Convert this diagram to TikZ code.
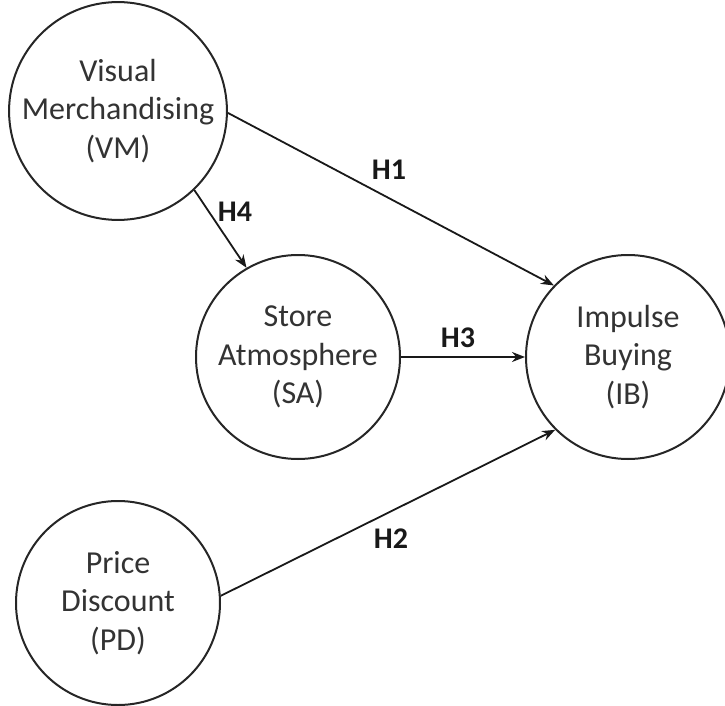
\documentclass[tikz,border=0pt]{standalone}
\usepackage{fontspec}
\setmainfont{Carlito}
\usetikzlibrary{arrows.meta}
\tikzset{
  construct/.style={circle, draw=black!85, line width=2pt, minimum size=204pt, inner sep=0pt, align=center, font=\fontsize{32}{38.5}\selectfont, text=black!80},
  link/.style={line width=1.8pt, draw=black!90, -{Stealth[length=13pt,width=10pt]}},
  hyp/.style={font=\bfseries\fontsize{30}{36}\selectfont, text=black!90}
}
\begin{document}
\begin{tikzpicture}[x=1pt,y=-1pt]
\useasboundingbox (0,0) rectangle (725,706);
\node[construct] (VM) at (118,111) {Visual\\Merchandising\\(VM)};
\node[construct] (SA) at (298,357) {Store\\Atmosphere\\(SA)};
\node[construct] (IB) at (628,357) {Impulse\\Buying\\(IB)};
\node[construct] (PD) at (118,603) {Price\\Discount\\(PD)};
\draw[link] (VM.-1) -- (IB.136);
\draw[link] (VM.-46) -- (SA.120);
\draw[link] (SA.0) -- (IB.180);
\draw[link] (PD.4) -- (IB.-135);
\node[hyp] (h1) at (389,170) {H1};
\node[hyp] (h4) at (235,212) {H4};
\node[hyp] (h3) at (458,338) {H3};
\node[hyp] (h2) at (391,539) {H2};
\end{tikzpicture}
\end{document}
